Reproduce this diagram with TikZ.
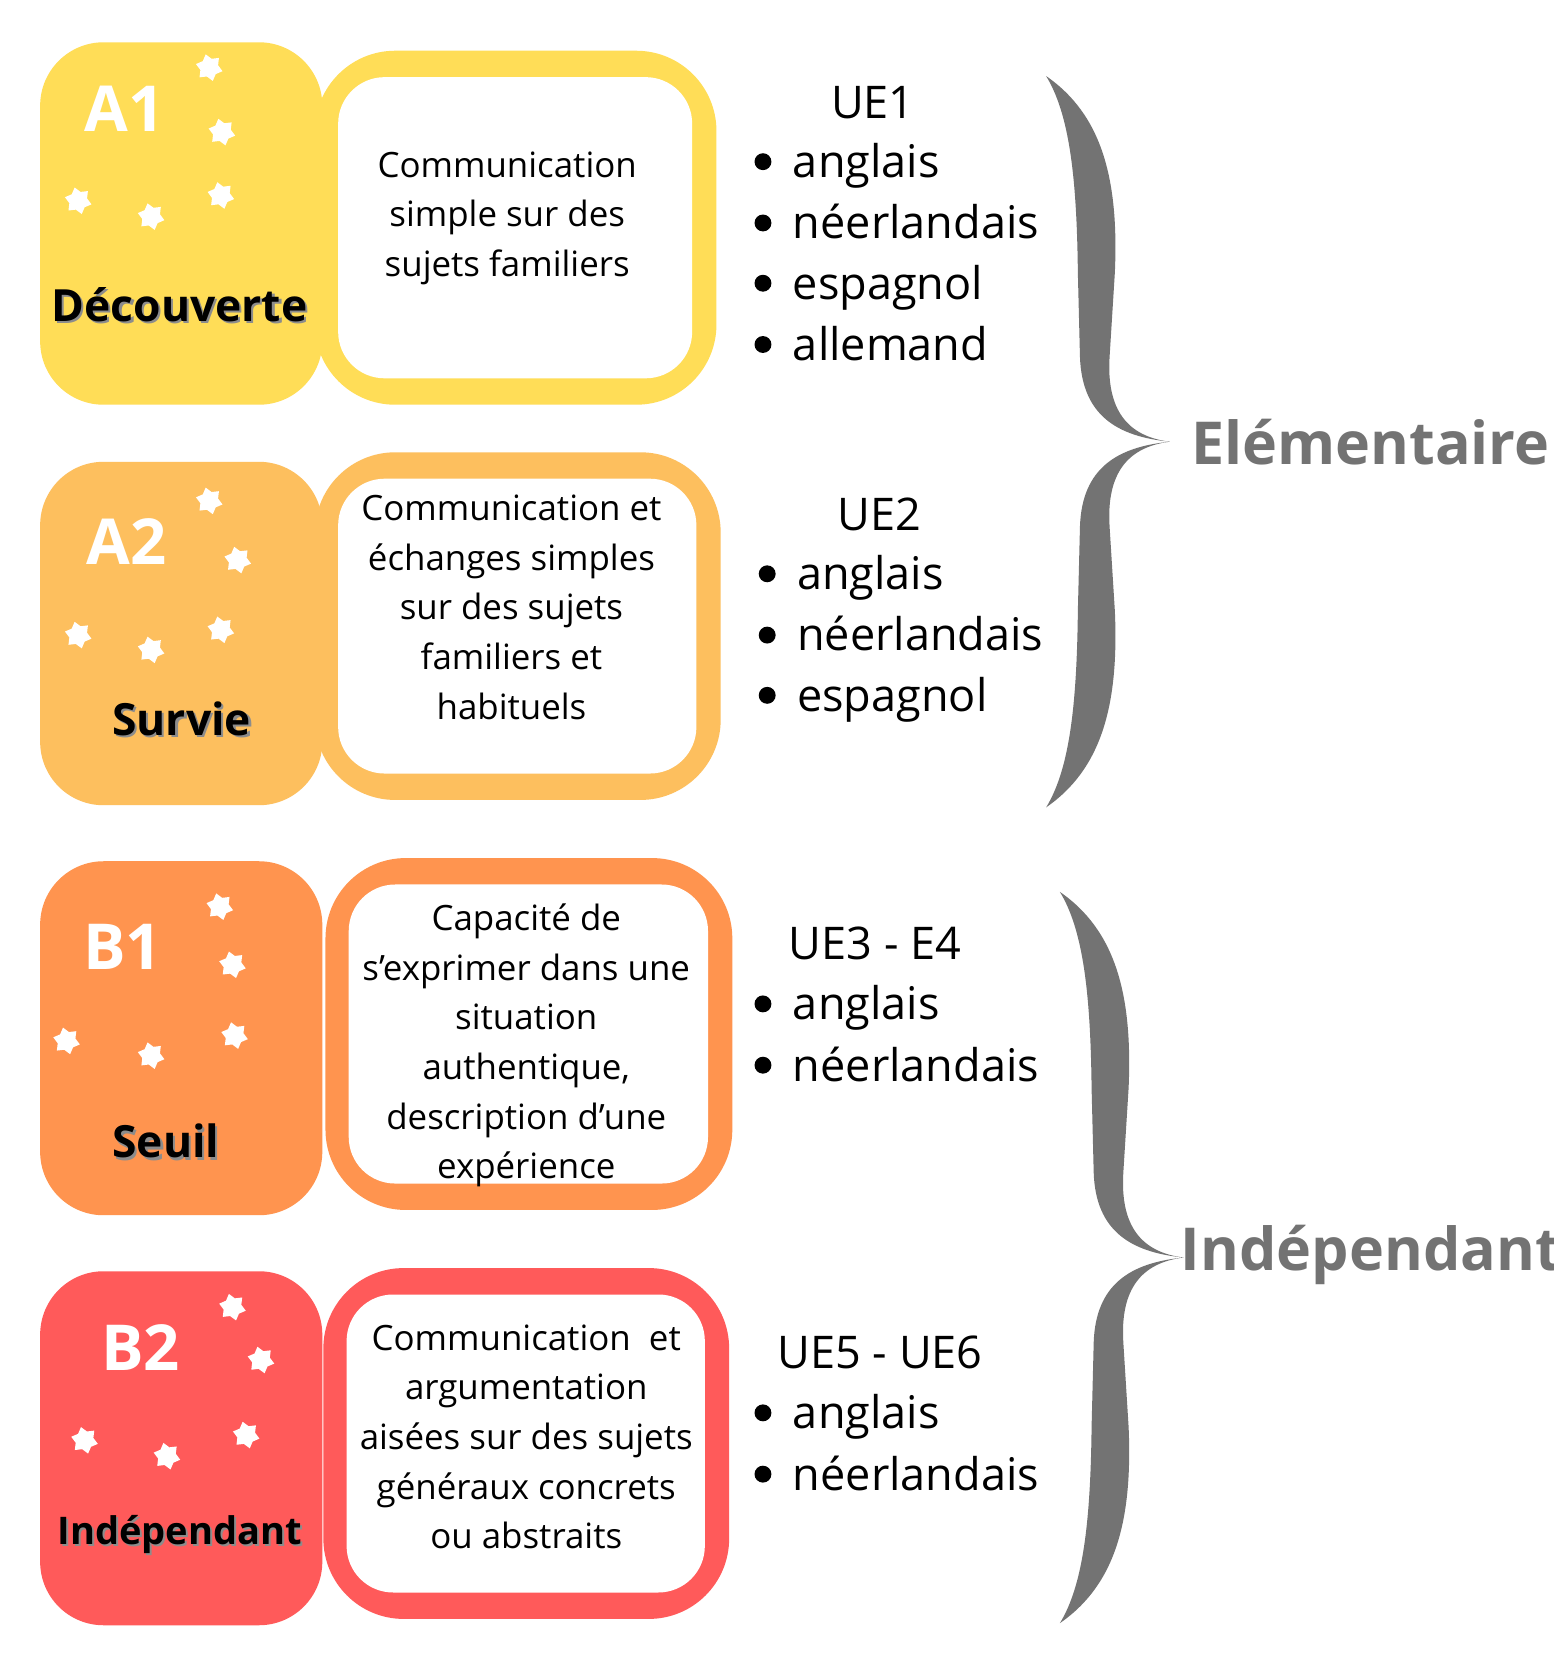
\documentclass[tikz,border=0pt]{standalone}
\usepackage{fontspec}
\setmainfont{Open Sans}
\usetikzlibrary{shapes.geometric,calc}
\definecolor{cA}{HTML}{FFDD57}
\definecolor{cB}{HTML}{FDBF5E}
\definecolor{cC}{HTML}{FF944F}
\definecolor{cD}{HTML}{FF5A5A}
\definecolor{gr}{HTML}{737373}
\tikzset{
 lvl/.style={inner sep=0pt,font=\bfseries\fontsize{30}{30}\selectfont,text=white},
 nm/.style={inner sep=0pt,font=\bfseries\fontsize{21}{21}\selectfont,text=black},
 nmsh/.style={inner sep=0pt,font=\bfseries\fontsize{21}{21}\selectfont,text=black!45},
 desc/.style={align=center,inner sep=0pt,font=\fontsize{16.5}{23.5}\selectfont},
 ue/.style={inner sep=0pt,font=\fontsize{21.3}{21}\selectfont,anchor=base west},
 uet/.style={inner sep=0pt,font=\fontsize{21.3}{21}\selectfont},
 strs/.style={star,star points=6,star point ratio=1.5,fill=white,draw=none,minimum size=13pt,inner sep=0pt,rotate=15},
 big/.style={inner sep=0pt,font=\bfseries\fontsize{28}{28}\selectfont,text=gr,anchor=west},
}
\newcommand{\levelbox}[7]{%
 \fill[#1,rounded corners=30pt] (38,#2) rectangle (305,#3);
 \fill[#1,rounded corners=38pt] (#4,#6) rectangle (#5,#7);
 \fill[white,rounded corners=22pt] ($(#4,#6)+(22,25)$) rectangle ($(#5,#7)+(-23,-25)$);
}
\newcommand{\bulletitem}[3]{\fill (#1,#2) circle (4pt); \node[ue] at ($(#1,#2)+(28,15)$) {#3};}
\begin{document}
\begin{tikzpicture}[x=0.5pt,y=-0.5pt]
\useasboundingbox (0,0) rectangle (1470,1569);
\fill[white] (0,0) rectangle (1470,1569);
\levelbox{cA}{40}{383}{298}{678}{48}{383}
\levelbox{cB}{437}{762}{298}{682}{428}{757}
\levelbox{cC}{815}{1150}{308}{693}{812}{1145}
\levelbox{cD}{1203}{1538}{306}{690}{1200}{1532}
\node[lvl] (a1) at (118,103) {A1};
\node[lvl] (a2) at (120,512) {A2};
\node[lvl] (b1) at (116,896) {B1};
\node[lvl] (b2) at (133,1275) {B2};
\node[nmsh] at (172,290) {Découverte};
\node[nm] (n1) at (170,288) {Découverte};
\node[nmsh] at (174,682) {Survie};
\node[nm] (n2) at (172,680) {Survie};
\node[nmsh] at (159,1082) {Seuil};
\node[nm] (n3) at (157,1080) {Seuil};
\node[nmsh,font=\bfseries\fontsize{18}{18}\selectfont] at (172,1454) {Indépendant};
\node[nm,font=\bfseries\fontsize{18}{18}\selectfont] (n4) at (170,1452) {Indépendant};
\foreach \p in {(198,64),(210,125),(74,190),(143,205),(209,185),
 (198,474),(225,530),(74,601),(143,615),(209,596),
 (208,858),(220,913),(63,985),(143,999),(222,980),
 (220,1237),(247,1287),(80,1363),(158,1378),(233,1358)}
 \node[strs] at \p {};
\node[desc,anchor=north] (d1) at (480,143) {Communication\\simple sur des\\sujets familiers};
\node[desc,anchor=north] (d2) at (484,468) {Communication et\\échanges simples\\sur des sujets\\familiers et\\habituels};
\node[desc,anchor=north] (d3) at (498,855) {Capacité de\\s’exprimer dans une\\situation\\authentique,\\description d’une\\expérience};
\node[desc,anchor=north] (d4) at (498,1253) {Communication~ et\\argumentation\\aisées sur des sujets\\généraux concrets\\ou abstraits};
\node[uet] (u1) at (826,97) {UE1};
\bulletitem{722}{153}{anglais}
\bulletitem{722}{211}{néerlandais}
\bulletitem{722}{268}{espagnol}
\bulletitem{722}{326}{allemand}
\node[uet] (u2) at (832,487) {UE2};
\bulletitem{726}{543}{anglais}
\bulletitem{726}{601}{néerlandais}
\bulletitem{726}{658}{espagnol}
\node[uet] (u3) at (828,893) {UE3 - E4};
\bulletitem{722}{950}{anglais}
\bulletitem{722}{1008}{néerlandais}
\node[uet] (u4) at (833,1280) {UE5 - UE6};
\bulletitem{722}{1337}{anglais}
\bulletitem{722}{1395}{néerlandais}
\foreach \tx/\ty in {1107/418,1120/1190}{
\fill[gr,shift={(\tx,\ty)}] (-117,-346) .. controls (-65,-310) and (-48,-250) .. (-52,-160) -- (-57,-80) .. controls (-60,-30) and (-40,-5) .. (0,0)
 .. controls (-40,5) and (-60,30) .. (-57,80) -- (-52,160) .. controls (-48,250) and (-65,310) .. (-117,346)
 .. controls (-95,310) and (-88,250) .. (-87,160) -- (-85,80) .. controls (-83,25) and (-50,5) .. (0,0)
 .. controls (-50,-5) and (-83,-25) .. (-85,-80) -- (-87,-160) .. controls (-88,-250) and (-95,-310) .. (-117,-346) -- cycle;
}
\node[big] (e1) at (1127,418) {Elémentaire};
\begin{scope}
\clip (0,0) rectangle (1470,1569);
\node[big] (e2) at (1117,1188) {Indépendant};
\end{scope}
\end{tikzpicture}
\end{document}
